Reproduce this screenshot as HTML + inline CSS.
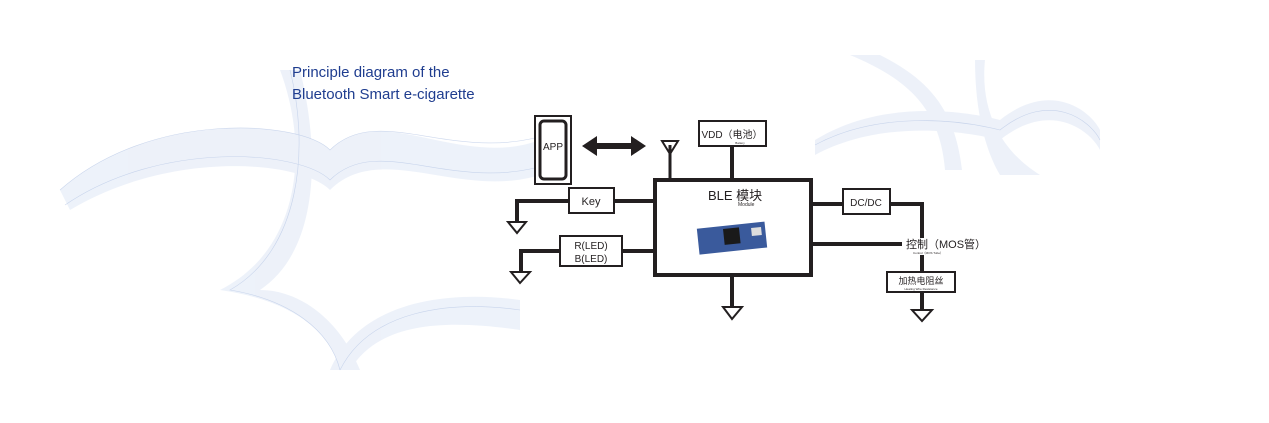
<!DOCTYPE html>
<html><head><meta charset="utf-8"><style>
html,body{margin:0;padding:0;background:#fff;}
body{width:1269px;height:423px;position:relative;overflow:hidden;font-family:"Liberation Sans","Noto Sans CJK SC",sans-serif;}
</style></head><body>
<svg width="1269" height="423" viewBox="0 0 1269 423" xmlns="http://www.w3.org/2000/svg" style="position:absolute;left:0;top:0">
<g fill="#dfe7f5" opacity="0.55">
  <path d="M60 190 C150 110 300 120 330 150 C380 100 460 170 540 140 L540 175 C460 200 380 140 330 190 C300 160 170 150 70 210 Z"/>
  <path d="M280 70 C310 150 300 250 220 290 C290 300 330 330 340 370 L360 370 C340 320 300 290 260 290 C320 250 320 150 300 70 Z"/>
  <path d="M330 370 C360 300 450 290 520 300 L520 330 C450 320 380 320 350 370 Z"/>
  <path d="M815 140 C880 100 960 110 1000 120 C1050 80 1090 110 1100 130 L1100 150 C1090 130 1050 100 1000 140 C960 130 880 120 815 155 Z"/>
  <path d="M850 55 C910 80 940 110 945 170 L962 170 C955 110 930 80 880 55 Z"/>
  <path d="M985 60 C980 110 1000 150 1040 175 L1000 175 C985 150 975 110 975 60 Z"/>
</g>
<g fill="none" stroke="#b8c8e6" stroke-width="0.6" opacity="0.7">
  <path d="M60 190 C150 110 300 120 330 150 C380 100 460 170 560 130"/>
  <path d="M65 205 C160 140 300 150 330 180 C380 130 460 200 560 160"/>
  <path d="M290 70 C310 150 300 250 230 290 C290 300 330 330 340 370"/>
  <path d="M340 370 C370 310 450 300 520 310"/>
  <path d="M815 145 C880 110 960 120 1000 130 C1050 90 1090 120 1100 140"/>
</g>
<text x="292" y="77" font-size="15" fill="#1f3d8f">Principle diagram of the</text>
<text x="292" y="99" font-size="15" fill="#1f3d8f">Bluetooth Smart e-cigarette</text>
<g stroke="#231f20" fill="none">
  <rect x="535" y="116" width="36" height="68" stroke-width="2" fill="#fff"/>
  <rect x="540" y="121" width="26" height="58" rx="4" stroke-width="3" fill="#fff"/>
  <line x1="592" y1="146" x2="636" y2="146" stroke-width="6"/>
  <line x1="670" y1="145" x2="670" y2="180" stroke-width="3"/>
  <path d="M662 141 L678 141 L670 154 Z" stroke-width="2"/>
  <rect x="655" y="180" width="156" height="95" stroke-width="4" fill="#fff"/>
  <line x1="732" y1="146" x2="732" y2="180" stroke-width="4"/>
  <rect x="699" y="121" width="67" height="25" stroke-width="2" fill="#fff"/>
  <polyline points="655,201 614,201" stroke-width="4"/>
  <polyline points="569,201 517,201 517,222" stroke-width="4"/>
  <rect x="569" y="188" width="45" height="25" stroke-width="2" fill="#fff"/>
  <path d="M508 222 L526 222 L517 233 Z" stroke-width="2"/>
  <polyline points="655,251 622,251" stroke-width="4"/>
  <polyline points="560,251 521,251 521,272" stroke-width="4"/>
  <rect x="560" y="236" width="62" height="30" stroke-width="2" fill="#fff"/>
  <path d="M511 272 L530 272 L520 283 Z" stroke-width="2"/>
  <line x1="732" y1="275" x2="732" y2="307" stroke-width="4"/>
  <path d="M723 307 L742 307 L732 319 Z" stroke-width="2"/>
  <line x1="811" y1="204" x2="843" y2="204" stroke-width="4"/>
  <polyline points="890,204 922,204 922,238" stroke-width="4"/>
  <rect x="843" y="189" width="47" height="25" stroke-width="2" fill="#fff"/>
  <line x1="811" y1="244" x2="902" y2="244" stroke-width="4"/>
  <line x1="922" y1="255" x2="922" y2="272" stroke-width="4"/>
  <line x1="922" y1="292" x2="922" y2="310" stroke-width="4"/>
  <rect x="887" y="272" width="68" height="20" stroke-width="2" fill="#fff"/>
  <path d="M912 310 L932 310 L922 321 Z" stroke-width="2"/>
</g>
<path d="M582 146 L597 136 L597 156 Z M646 146 L631 136 L631 156 Z" fill="#231f20"/>
<g fill="#231f20">
  <text x="553" y="150" font-size="10" text-anchor="middle">APP</text>
  <text x="732" y="138" font-size="10" text-anchor="middle">VDD（电池）</text>
  <text x="740" y="144" font-size="3" text-anchor="middle">Battery</text>
  <text x="591" y="205" font-size="11" text-anchor="middle">Key</text>
  <text x="591" y="249" font-size="10" text-anchor="middle">R(LED)</text>
  <text x="591" y="262" font-size="10" text-anchor="middle">B(LED)</text>
  <text x="866" y="206" font-size="10" text-anchor="middle">DC/DC</text>
  <text x="708" y="200" font-size="13">BLE 模块</text>
  <text x="738" y="206" font-size="5">Module</text>
  <text x="906" y="248" font-size="11">控制（MOS管）</text>
  <text x="913" y="254" font-size="3">Control（MOS Tube）</text>
  <text x="921" y="284" font-size="9" text-anchor="middle">加热电阻丝</text>
  <text x="921" y="290" font-size="3" text-anchor="middle">Heating Wire Resistance</text>
</g>
<g transform="rotate(-6 733 238)">
  <rect x="698" y="225" width="68" height="26" fill="#3a5a9c"/>
  <rect x="724" y="228" width="16" height="16" fill="#1a1a1a"/>
  <rect x="752" y="230" width="10" height="8" fill="#ddd"/>
</g>
</svg>
</body></html>
